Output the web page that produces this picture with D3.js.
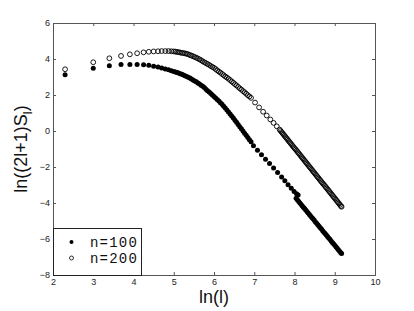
<!DOCTYPE html>
<html>
<head>
<meta charset="utf-8">
<script src="https://cdn.jsdelivr.net/npm/d3@7/dist/d3.min.js"></script>
<style>
  body { margin: 0; background: #fff; }
  text { font-family: "Liberation Sans", Arial, sans-serif; }
</style>
</head>
<body>
<svg></svg>
<script>
const width = 414, height = 311;
const margin = {top: 23, right: 39, bottom: 36, left: 53};

// x = ln(l), y = ln((2l+1)S_l)
const n100 = [
  [2.30,3.13],[3.00,3.48],[3.40,3.63],[3.69,3.70],[3.91,3.70],[4.09,3.70],[4.25,3.68],[4.38,3.65],[4.50,3.60],
  [4.61,3.55],[4.70,3.50],[4.79,3.45],[4.87,3.40],[4.94,3.35],[5.00,3.31],[5.04,3.28],[5.08,3.25],[5.12,3.22],
  [5.16,3.18],[5.20,3.15],[5.24,3.11],[5.28,3.07],[5.32,3.03],[5.36,2.98],[5.40,2.94],[5.44,2.89],[5.48,2.84],
  [5.52,2.78],[5.56,2.73],[5.60,2.67],[5.64,2.61],[5.68,2.54],[5.72,2.48],[5.76,2.41],[5.80,2.32],[5.84,2.24],
  [5.88,2.16],[5.92,2.08],[5.96,2.00],[6.00,1.92],[6.04,1.84],[6.08,1.75],[6.12,1.66],[6.16,1.57],[6.20,1.48],
  [6.24,1.38],[6.28,1.28],[6.32,1.17],[6.36,1.06],[6.40,0.95],[6.44,0.84],[6.48,0.72],[6.52,0.60],[6.56,0.48],
  [6.60,0.36],[6.64,0.24],[6.68,0.12],[6.72,0.00],[6.76,-0.12],[6.80,-0.24],[6.84,-0.36],[6.88,-0.48],[6.92,-0.60],
  [6.98,-0.82],[7.08,-1.07],[7.18,-1.32],[7.28,-1.57],[7.38,-1.81],[7.48,-2.06],[7.58,-2.31],[7.68,-2.56],
  [7.76,-2.77],[7.84,-2.98],[7.92,-3.18],[7.99,-3.36],[8.05,-3.48],[8.09,-3.55],
  [8.04,-3.74],[8.07,-3.82],[8.10,-3.90],[8.13,-3.98],[8.16,-4.07],[8.19,-4.15],[8.22,-4.23],[8.25,-4.31],
  [8.28,-4.39],[8.31,-4.47],[8.34,-4.56],[8.37,-4.64],[8.40,-4.72],[8.43,-4.80],[8.46,-4.88],[8.49,-4.96],
  [8.52,-5.05],[8.55,-5.13],[8.58,-5.21],[8.61,-5.29],[8.64,-5.37],[8.67,-5.45],[8.70,-5.54],[8.73,-5.62],
  [8.76,-5.70],[8.79,-5.78],[8.82,-5.86],[8.85,-5.94],[8.88,-6.02],[8.91,-6.11],[8.94,-6.19],[8.97,-6.27],
  [9.00,-6.35],[9.03,-6.43],[9.06,-6.51],[9.09,-6.60],[9.12,-6.68],[9.15,-6.76],[9.17,-6.81]
];

const n200 = [
  [2.30,3.43],[3.00,3.82],[3.40,4.04],[3.69,4.17],[3.91,4.26],[4.09,4.32],[4.25,4.37],[4.38,4.40],[4.50,4.42],
  [4.61,4.43],[4.70,4.44],[4.79,4.44],[4.87,4.44],[4.94,4.43],[5.00,4.42],[5.04,4.41],[5.08,4.39],[5.12,4.38],
  [5.16,4.36],[5.20,4.34],[5.24,4.33],[5.28,4.31],[5.32,4.29],[5.36,4.26],[5.40,4.22],[5.44,4.19],[5.48,4.15],
  [5.52,4.11],[5.56,4.07],[5.60,4.03],[5.64,3.98],[5.68,3.93],[5.72,3.87],[5.76,3.82],[5.80,3.77],[5.84,3.72],
  [5.88,3.67],[5.92,3.61],[5.96,3.56],[6.00,3.51],[6.04,3.44],[6.08,3.37],[6.12,3.30],[6.16,3.24],[6.20,3.17],
  [6.24,3.10],[6.28,3.03],[6.32,2.97],[6.36,2.90],[6.40,2.83],[6.44,2.75],[6.48,2.68],[6.52,2.60],[6.56,2.53],
  [6.60,2.45],[6.64,2.37],[6.68,2.30],[6.72,2.22],[6.76,2.15],[6.80,2.07],[6.84,1.99],[6.88,1.92],[6.92,1.84],
  [7.02,1.58],[7.12,1.31],[7.22,1.07],[7.31,0.86],[7.40,0.64],[7.48,0.45],[7.56,0.26],[7.63,0.08],
  [7.655,0.01],[7.68,-0.06],[7.705,-0.13],[7.73,-0.20],[7.755,-0.27],[7.78,-0.34],[7.805,-0.41],[7.83,-0.48],
  [7.855,-0.55],[7.88,-0.62],[7.905,-0.69],[7.93,-0.76],[7.955,-0.83],[7.98,-0.90],[8.005,-0.97],[8.03,-1.03],
  [8.055,-1.10],[8.08,-1.17],[8.105,-1.24],[8.13,-1.31],[8.155,-1.38],[8.18,-1.45],[8.205,-1.52],[8.23,-1.59],
  [8.255,-1.66],[8.28,-1.73],[8.305,-1.80],[8.33,-1.87],[8.355,-1.94],[8.38,-2.01],[8.405,-2.08],[8.43,-2.15],
  [8.455,-2.22],[8.48,-2.29],[8.505,-2.36],[8.53,-2.43],[8.555,-2.50],[8.58,-2.57],[8.605,-2.64],[8.63,-2.71],
  [8.655,-2.78],[8.68,-2.85],[8.705,-2.92],[8.73,-2.98],[8.755,-3.05],[8.78,-3.12],[8.805,-3.19],[8.83,-3.26],
  [8.855,-3.33],[8.88,-3.40],[8.905,-3.47],[8.93,-3.54],[8.955,-3.61],[8.98,-3.68],[9.005,-3.75],[9.03,-3.82],
  [9.055,-3.89],[9.08,-3.96],[9.105,-4.03],[9.13,-4.10],[9.155,-4.17],[9.17,-4.21]
];

const xTicks = [2, 3, 4, 5, 6, 7, 8, 9, 10];
const yTicks = [-8, -6, -4, -2, 0, 2, 4, 6];
const legendLabels = ["n=100", "n=200"];

const svg = d3.select("svg")
  .attr("width", width)
  .attr("height", height);

const x = d3.scaleLinear().domain([2, 10]).range([margin.left, width - margin.right]);
const y = d3.scaleLinear().domain([-8, 6]).range([height - margin.bottom, margin.top]);

const axisColor = "#555";

// axes: ticks pointing inwards on all four sides
function styleAxis(g) {
  g.select(".domain").remove();
  g.selectAll(".tick line").attr("stroke", axisColor);
  g.selectAll(".tick text")
    .attr("fill", "#222")
    .style("font-size", "9px");
}

svg.append("g")
  .attr("transform", "translate(0," + (height - margin.bottom) + ")")
  .call(d3.axisBottom(x).tickValues(xTicks).tickSize(-3).tickPadding(4))
  .call(styleAxis);

svg.append("g")
  .attr("transform", "translate(0," + margin.top + ")")
  .call(d3.axisTop(x).tickValues(xTicks).tickSize(-3).tickFormat(""))
  .call(styleAxis);

svg.append("g")
  .attr("transform", "translate(" + margin.left + ",0)")
  .call(d3.axisLeft(y).tickValues(yTicks).tickSize(-3).tickPadding(3))
  .call(styleAxis);

svg.append("g")
  .attr("transform", "translate(" + (width - margin.right) + ",0)")
  .call(d3.axisRight(y).tickValues(yTicks).tickSize(-3).tickFormat(""))
  .call(styleAxis);

svg.append("rect")
  .attr("x", x(2) + 0.5)
  .attr("y", y(6) + 0.5)
  .attr("width", x(10) - x(2))
  .attr("height", y(-8) - y(6))
  .attr("fill", "none")
  .attr("stroke", axisColor);

// data markers
svg.append("g")
  .selectAll("circle")
  .data(n200)
  .join("circle")
  .attr("cx", d => x(d[0]))
  .attr("cy", d => y(d[1]))
  .attr("r", 2.4)
  .attr("fill", "none")
  .attr("stroke", "#000")
  .attr("stroke-width", 0.9);

svg.append("g")
  .selectAll("circle")
  .data(n100)
  .join("circle")
  .attr("cx", d => x(d[0]))
  .attr("cy", d => y(d[1]))
  .attr("r", 2.5)
  .attr("fill", "#000");

// legend
const legend = svg.append("g");

legend.append("rect")
  .attr("x", x(2) + 0.5)
  .attr("y", 228.5)
  .attr("width", 88)
  .attr("height", y(-8) - 228)
  .attr("fill", "#fff")
  .attr("stroke", "#222");

legendLabels.forEach((label, i) => {
  const ly = 242 + i * 16;
  legend.append("circle")
    .attr("cx", 71.5)
    .attr("cy", ly)
    .attr("r", 2)
    .attr("fill", i === 0 ? "#000" : "none")
    .attr("stroke", "#000")
    .attr("stroke-width", i === 0 ? 0 : 0.8);
  legend.append("text")
    .attr("x", 90)
    .attr("y", ly + 5)
    .style("font-family", "'Liberation Mono', 'DejaVu Sans Mono', monospace")
    .style("font-size", "14px")
    .style("letter-spacing", "1.2px")
    .attr("fill", "#111")
    .text(label);
});

// axis labels
svg.append("text")
  .attr("x", (x(2) + x(10)) / 2)
  .attr("y", 303)
  .attr("text-anchor", "middle")
  .style("font-size", "18px")
  .attr("fill", "#111")
  .text("ln(l)");

const yl = svg.append("text")
  .attr("transform", "translate(27," + (y(6) + y(-8)) / 2 + ") rotate(-90)")
  .attr("text-anchor", "middle")
  .style("font-size", "18px")
  .attr("fill", "#111");
yl.append("tspan").text("ln((2l+1)S");
yl.append("tspan").attr("dy", 5).style("font-size", "13px").text("l");
yl.append("tspan").attr("dy", -5).text(")");
</script>
</body>
</html>
